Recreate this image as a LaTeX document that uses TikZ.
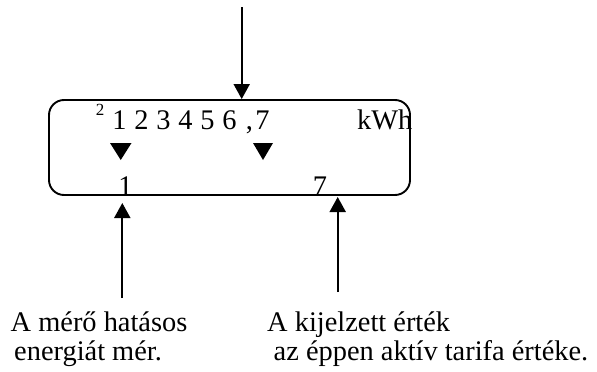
\documentclass[tikz,border=0pt]{standalone}
\usepackage{fontspec}
\setmainfont{Liberation Serif}
\usetikzlibrary{arrows.meta}
\tikzset{
  txt/.style={inner sep=0pt, font=\fontsize{28.4}{30}\selectfont},
  digit/.style={txt, anchor=base},
  note/.style={txt, anchor=base west},
  sup/.style={inner sep=0pt, anchor=base, font=\fontsize{17}{18}\selectfont},
  frame/.style={draw, line width=1.9pt, rounded corners=15pt, inner sep=0pt},
  pointer/.style={line width=1.9pt, -{Triangle[width=16pt,length=15pt]}},
  marker/.style={fill=black, draw=none}
}
\begin{document}
\begin{tikzpicture}[x=1pt,y=-1pt]
\useasboundingbox (0,0) rectangle (597,372);
% display frame
\node[frame, minimum width=361pt, minimum height=95pt] (box) at (229.5,147.5) {};
% first row
\node[sup] (exp) at (100,115) {2};
\foreach \d [count=\i from 0] in {1,2,3,4,5,6}
  \node[digit] (d\d) at ({119.5+22*\i},129) {\d};
\node[digit] (comma) at (249.5,129) {,};
\node[digit] (d7) at (262.5,129) {7};
\node[note] (unit) at (357,129) {kWh};
% markers
\fill[marker] (110,143) -- (131.5,143) -- (120.75,160) -- cycle;
\fill[marker] (253,143) -- (273,143) -- (263,160) -- cycle;
% second row
\node[digit] (r1) at (125.5,195) {1};
\node[digit] (r7) at (320,195) {7};
% notes
\node[note] (n1a) at (10.5,331) {A mérő hatásos};
\node[note] (n1b) at (14,360) {energiát mér.};
\node[note] (n2a) at (267,331) {A kijelzett érték};
\node[note] (n2b) at (273.5,360) {az éppen aktív tarifa értéke.};
% arrows
\coordinate (topstart) at (241.7,7);
\coordinate (lstart) at (122.3,298);
\coordinate (lend) at (122.3,203);
\coordinate (rstart) at (337.7,292);
\coordinate (rend) at (337.7,197);
\draw[pointer] (topstart) -- (topstart |- box.north);
\draw[pointer] (lstart) -- (lend);
\draw[pointer] (rstart) -- (rend);
\end{tikzpicture}
\end{document}
